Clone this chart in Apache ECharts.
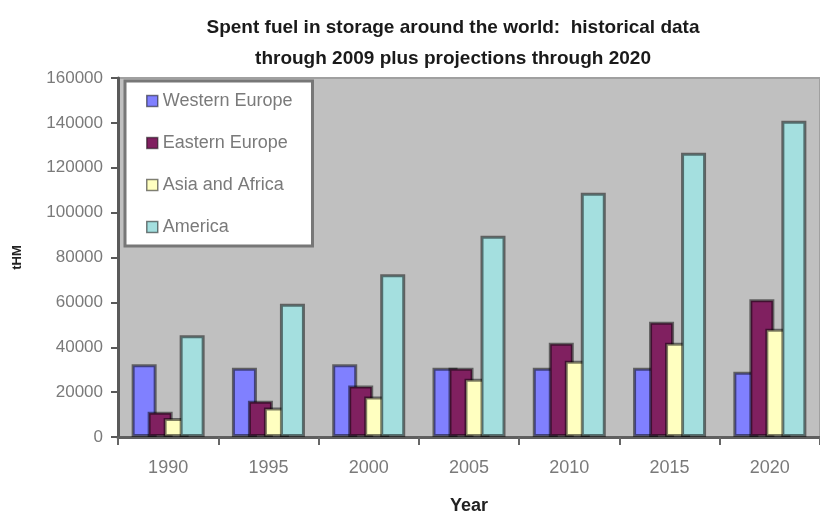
<!DOCTYPE html>
<html>
<head>
<meta charset="utf-8">
<script src="https://cdn.jsdelivr.net/npm/echarts@6/dist/echarts.min.js"></script>
<style>
  html, body { margin: 0; padding: 0; background: #fff; }
  #chart { width: 820px; height: 516px; }
</style>
</head>
<body>
<div id="chart"></div>
<script>
// spent fuel in storage (tHM)
const years = ['1990', '1995', '2000', '2005', '2010', '2015', '2020']
const westernEurope = [32400, 30900, 32400, 30900, 30900, 30900, 29100]
const easternEurope = [11300, 16200, 22900, 30900, 42000, 51400, 61400]
const asiaAfrica = [8500, 13100, 18000, 26000, 34000, 42000, 48300]
const america = [45300, 59400, 72500, 89700, 108900, 126700, 141000]

const narrow = '"Liberation Sans Narrow", "Arial Narrow", "Liberation Sans", sans-serif'
const sans = '"Liberation Sans", Arial, sans-serif'
const labelGray = '#7a7a7a'

function barSeries(name, data, color) {
  return {
    name,
    type: 'bar',
    data,
    barWidth: 25,
    barGap: '-36%',
    itemStyle: { color, borderColor: 'rgba(0,0,0,0.5)', borderWidth: 3 },
  }
}

const chart = echarts.init(document.getElementById('chart'), null, { renderer: 'canvas' })
chart.setOption({
  animation: false,
  title: {
    text: 'Spent fuel in storage around the world:  historical data\nthrough 2009 plus projections through 2020',
    left: 448,
    textAlign: 'center',
    top: 7,
    textStyle: { fontFamily: narrow, fontWeight: 'bold', fontSize: 19, lineHeight: 31, color: '#1a1a1a' },
  },
  legend: {
    orient: 'vertical',
    left: 125,
    top: 81,
    padding: [10, 20, 9, 21],
    backgroundColor: '#fff',
    borderColor: '#777',
    borderWidth: 3,
    itemWidth: 11,
    itemHeight: 11,
    itemGap: 22,
    icon: 'rect',
    itemStyle: { borderWidth: 1.5 },
    textStyle: { fontFamily: sans, fontSize: 18, lineHeight: 20, color: labelGray },
  },
  grid: {
    left: 118,
    right: 0,
    top: 78,
    bottom: 79,
    outerBoundsMode: 'none',
    show: true,
    backgroundColor: '#c0c0c0',
    borderColor: '#a0a0a0',
    borderWidth: 2,
  },
  xAxis: {
    type: 'category',
    data: years,
    name: 'Year',
    nameLocation: 'middle',
    nameGap: 60,
    nameTextStyle: { fontFamily: narrow, fontWeight: 'bold', fontSize: 18, color: '#222' },
    axisLine: { lineStyle: { color: '#5f5f5f', width: 3 } },
    axisTick: { show: true, length: 8, lineStyle: { color: '#666', width: 2 } },
    axisLabel: { fontFamily: narrow, fontSize: 18, color: labelGray, margin: 22 },
  },
  yAxis: {
    type: 'value',
    min: 0,
    max: 160000,
    interval: 20000,
    name: 'tHM',
    nameLocation: 'middle',
    nameRotate: 90,
    nameGap: 94,
    nameTextStyle: { fontFamily: narrow, fontWeight: 'bold', fontSize: 13, color: '#222' },
    axisLine: { show: true, lineStyle: { color: '#5a5a5a', width: 3 } },
    axisTick: { show: true, length: 7, lineStyle: { color: '#5a5a5a', width: 2 } },
    axisLabel: { fontFamily: sans, fontSize: 17, color: labelGray, margin: 15, formatter: (v) => String(v) },
    splitLine: { show: false },
  },
  series: [
    barSeries('Western Europe', westernEurope, '#8080ff'),
    barSeries('Eastern Europe', easternEurope, '#802060'),
    barSeries('Asia and Africa', asiaAfrica, '#ffffc0'),
    barSeries('America', america, '#a4dfdf'),
  ],
})
</script>
</body>
</html>
